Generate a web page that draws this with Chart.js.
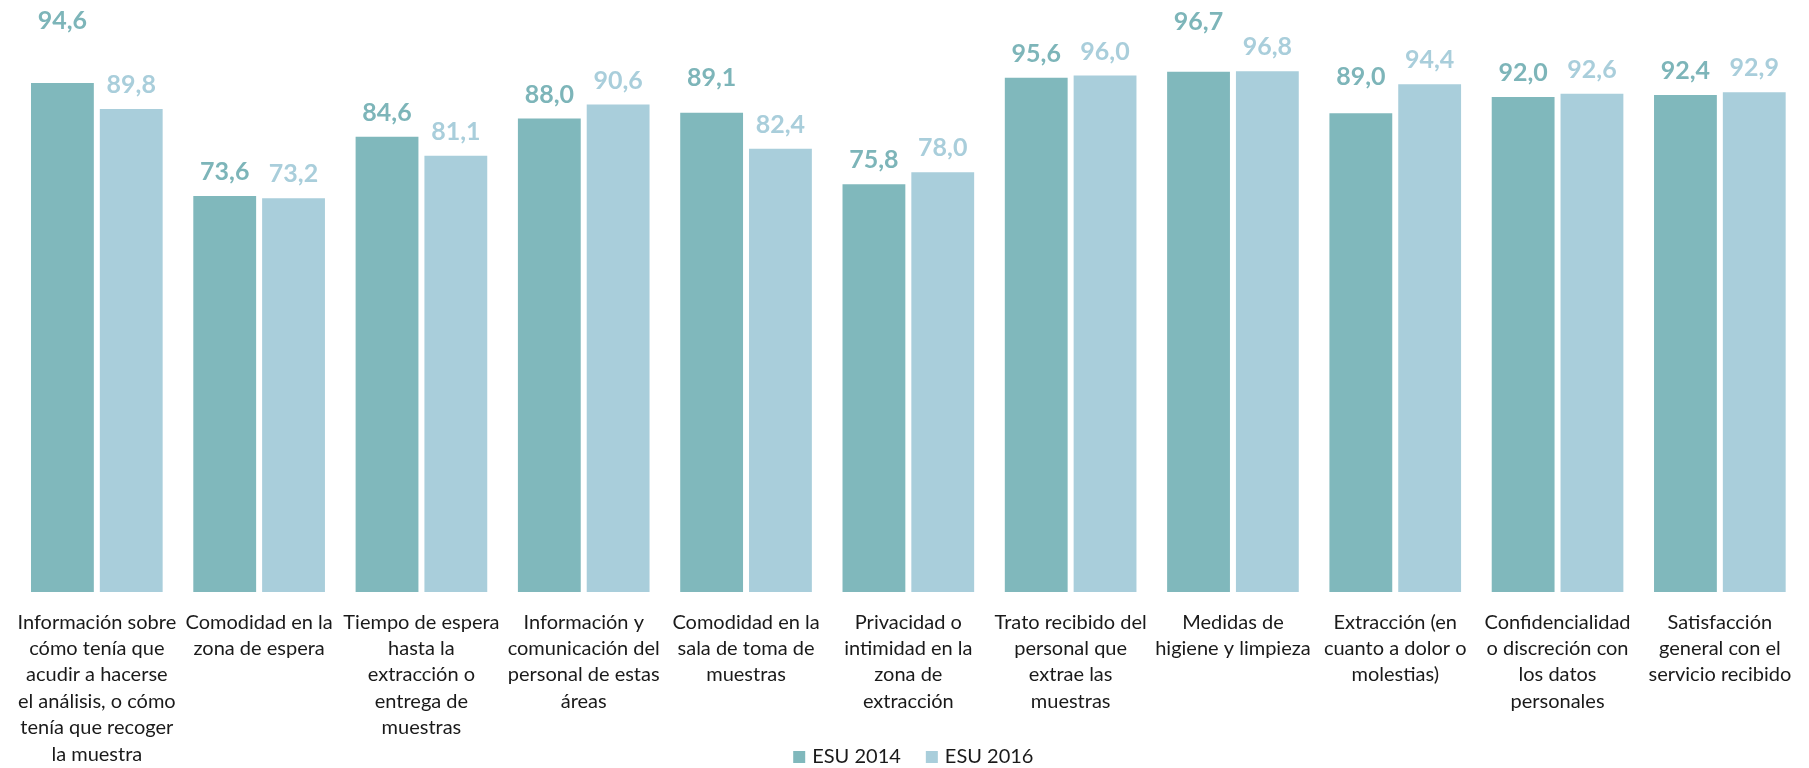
<!DOCTYPE html>
<html lang="es">
<head>
<meta charset="UTF-8">
<title>ESU 2014 / ESU 2016</title>
<script src="https://cdn.jsdelivr.net/npm/chart.js"></script>
<style>
  body { margin: 0; background: #fff; }
  #wrap { width: 1809px; height: 768px; }
</style>
</head>
<body>
<div id="wrap"><canvas id="grafico"></canvas></div>
<script>
const categorias = [
  ["Información sobre", "cómo tenía que", "acudir a hacerse", "el análisis, o cómo", "tenía que recoger", "la muestra"],
  ["Comodidad en la", "zona de espera"],
  ["Tiempo de espera", "hasta la", "extracción o", "entrega de", "muestras"],
  ["Información y", "comunicación del", "personal de estas", "áreas"],
  ["Comodidad en la", "sala de toma de", "muestras"],
  ["Privacidad o", "intimidad en la", "zona de", "extracción"],
  ["Trato recibido del", "personal que", "extrae las", "muestras"],
  ["Medidas de", "higiene y limpieza"],
  ["Extracción (en", "cuanto a dolor o", "molestias)"],
  ["Confidencialidad", "o discreción con", "los datos", "personales"],
  ["Satisfacción", "general con el", "servicio recibido"]
];
const esu2014 = [94.6, 73.6, 84.6, 88.0, 89.1, 75.8, 95.6, 96.7, 89.0, 92.0, 92.4];
const esu2016 = [89.8, 73.2, 81.1, 90.6, 82.4, 78.0, 96.0, 96.8, 94.4, 92.6, 92.9];

const verde = "#80b8bc";
const azul = "#a9cedb";
const fuente = "Lato";

// etiquetas de valor encima de cada barra (coma decimal)
const etiquetas = {
  id: "etiquetas",
  afterDatasetsDraw(chart, args, opts) {
    const ctx = chart.ctx;
    chart.data.datasets.forEach((ds, i) => {
      const st = opts.estilos[i];
      ctx.save();
      ctx.font = st.font;
      ctx.fillStyle = st.color;
      ctx.textAlign = "center";
      ctx.textBaseline = "middle";
      chart.getDatasetMeta(i).data.forEach((bar, j) => {
        const txt = ds.data[j].toFixed(1).replace(".", ",");
        ctx.fillText(txt, bar.x, bar.y - 24 - (st.extra[j] || 0));
      });
      ctx.restore();
    });
  }
};

// leyenda abajo, encima del hueco entre etiquetas largas
const leyenda = {
  id: "leyenda",
  afterDraw(chart, args, opts) {
    const ctx = chart.ctx;
    const area = chart.chartArea;
    ctx.save();
    ctx.font = opts.font;
    ctx.textBaseline = "middle";
    ctx.textAlign = "left";
    const items = chart.data.datasets.map(ds => ({
      text: ds.label, color: ds.backgroundColor, w: ctx.measureText(ds.label).width
    }));
    let total = 0;
    items.forEach((it, i) => { total += opts.box + opts.gap + it.w + (i ? opts.spacing : 0); });
    let x = (area.left + area.right) / 2 - total / 2 + opts.shift;
    items.forEach(it => {
      ctx.fillStyle = it.color;
      ctx.fillRect(x, opts.y - opts.box / 2, opts.box, opts.box);
      ctx.fillStyle = opts.color;
      ctx.fillText(it.text, x + opts.box + opts.gap, opts.y);
      x += opts.box + opts.gap + it.w + opts.spacing;
    });
    ctx.restore();
  }
};

new Chart(document.getElementById("grafico"), {
  type: "bar",
  data: {
    labels: categorias,
    datasets: [
      { label: "ESU 2014", data: esu2014, backgroundColor: verde },
      { label: "ESU 2016", data: esu2016, backgroundColor: azul }
    ]
  },
  options: {
    responsive: true,
    maintainAspectRatio: false,
    animation: false,
    categoryPercentage: 0.848,
    barPercentage: 0.913,
    layout: { padding: { left: 10, right: 8, top: 54, bottom: 0 } },
    scales: {
      y: { display: false, min: 0, max: 100 },
      x: {
        grid: { display: false, drawTicks: false },
        border: { display: false },
        ticks: {
          autoSkip: false,
          maxRotation: 0,
          padding: 17,
          color: "#1a1a1a",
          font: { family: fuente, size: 20, lineHeight: 1.32 }
        },
        afterFit(axis) { axis.height = 176; }
      }
    },
    plugins: {
      tooltip: { enabled: false },
      legend: { display: false },
      etiquetas: {
        estilos: [
          { font: "bold 25px " + fuente, color: "#7db5b9", extra: [38, 0, 0, 0, 11, 0, 0, 26, 12, 0, 0] },
          { font: "bold 25px " + fuente, color: "#a9cedb", extra: [] }
        ]
      },
      leyenda: { font: "20px " + fuente, color: "#1a1a1a", box: 12, gap: 7, spacing: 25, y: 757, shift: 5 }
    }
  },
  plugins: [etiquetas, leyenda]
});
</script>
</body>
</html>
